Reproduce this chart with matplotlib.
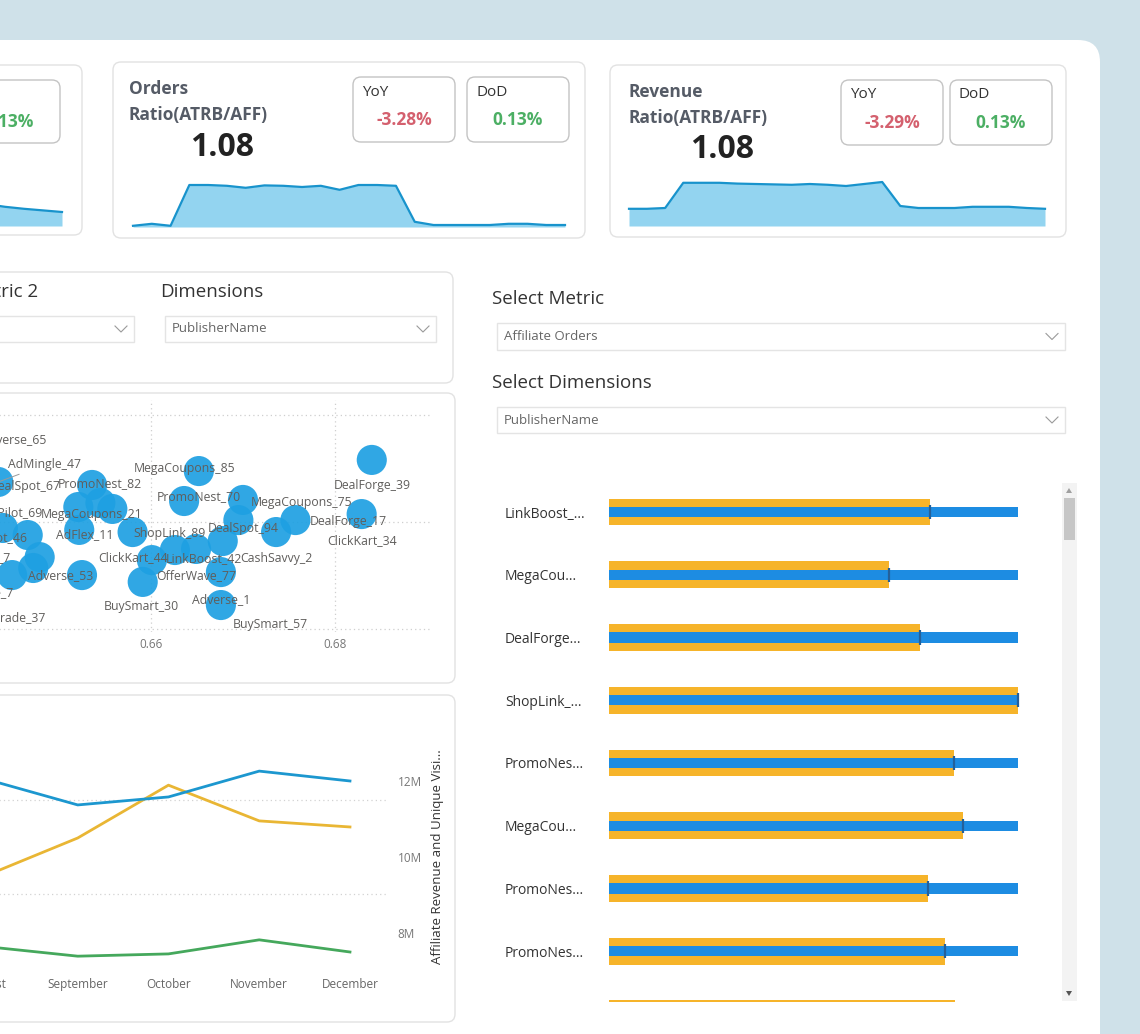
import matplotlib
matplotlib.use('Agg')
import matplotlib.pyplot as plt
from matplotlib.patches import FancyBboxPatch, Rectangle, Polygon

W, H = 1140, 1034
plt.rcParams['font.family'] = ['Open Sans', 'DejaVu Sans']

# ── KPI cards ──
LEFT_SPARK = [1.055, 1.048, 1.043, 1.039, 1.035]
ORDERS_SPARK = [1.003, 1.008, 1.003, 1.105, 1.105, 1.103, 1.098, 1.104, 1.103, 1.100, 1.103, 1.093,
                1.105, 1.105, 1.103, 1.013, 1.005, 1.005, 1.005, 1.005, 1.008, 1.008, 1.005, 1.005]
REVENUE_SPARK = [1.043, 1.043, 1.045, 1.108, 1.108, 1.108, 1.106, 1.105, 1.104, 1.103, 1.105, 1.103,
                 1.100, 1.105, 1.110, 1.050, 1.045, 1.045, 1.045, 1.048, 1.048, 1.048, 1.045, 1.043]
KPI_VALUE = ['1.08', '1.08']
KPI_YOY = ['-3.28%', '-3.29%']
KPI_DOD = ['0.13%', '0.13%']

# ── scatter (publisher bubbles) ──
SC_NAMES = ['DealForge_39', 'ClickKart_34', 'DealForge_17', 'MegaCoupons_75', 'MegaCoupons_85',
            'PromoNest_70', 'DealSpot_94', 'CashSavvy_2', 'ShopLink_12', 'LinkBoost_42', 'OfferWave_77',
            'Adverse_1', 'BuySmart_57', 'ClickKart_44', 'BuySmart_30', 'ShopLink_89', 'PromoNest_82',
            'MegaCoupons_21', 'CashSavvy_58', 'AdFlex_29', 'AdFlex_11', 'Adverse_53', 'AdMingle_47',
            'DealSpot_67', 'AdPilot_69', 'DealSpot_46', 'ShopLink_7', 'OfferWave_15', 'Adverse_7',
            'AdTrade_37', 'Adverse_65']
SC_X = [0.6840, 0.6829, 0.6757, 0.6700, 0.6652, 0.6636, 0.6695, 0.6736, 0.6678, 0.6626, 0.6649,
        0.6676, 0.6676, 0.6601, 0.6591, 0.6580, 0.6536, 0.6545, 0.6521, 0.6558, 0.6522, 0.6525,
        0.6434, 0.6398, 0.6439, 0.6466, 0.6479, 0.6472, 0.6449, 0.6414, 0.6403]
SC_Y = [0.5790, 0.5537, 0.5509, 0.5603, 0.5738, 0.5598, 0.5509, 0.5453, 0.5411, 0.5369, 0.5374,
        0.5266, 0.5112, 0.5322, 0.5220, 0.5453, 0.5673, 0.5589, 0.5570, 0.5561, 0.5463, 0.5252,
        0.5687, 0.5640, 0.5472, 0.5439, 0.5336, 0.5285, 0.5252, 0.5112, 0.5953]

# label offsets in pixels (layout only); missing = label hidden
LABEL_OFF = {
    'DealForge_39': (0, -26), 'ClickKart_34': (0, -26), 'DealForge_17': (53, -1),
    'MegaCoupons_75': (59, -3), 'MegaCoupons_85': (-14, 3), 'PromoNest_70': (15, 4),
    'DealSpot_94': (5, -8), 'CashSavvy_2': (0, -26), 'LinkBoost_42': (29, -9),
    'OfferWave_77': (0, -27), 'Adverse_1': (0, -27), 'BuySmart_57': (49, -19),
    'ClickKart_44': (-19, 3), 'BuySmart_30': (-1, -25), 'ShopLink_89': (37, -1),
    'PromoNest_82': (8, 1), 'MegaCoupons_21': (-9, -12), 'AdFlex_11': (6, -5),
    'Adverse_53': (-21, 0), 'AdMingle_47': (46, 17), 'DealSpot_67': (60, 6),
    'AdPilot_69': (9, 15), 'DealSpot_46': (-35, -3), 'ShopLink_7': (-62, -1),
    'Adverse_7': (-28, -17), 'AdTrade_37': (32, -13), 'Adverse_65': (44, -15),
}

# ── monthly trend ──
MONTHS = ['August', 'September', 'October', 'November', 'December']
REV_BLUE = [12.04, 11.37, 11.58, 12.26, 12.00]      # millions
REV_YELLOW = [9.52, 10.50, 11.89, 10.95, 10.79]
REV_GREEN = [7.64, 7.39, 7.45, 7.82, 7.50]

# ── bullet chart ──
PUB_LABELS = ['LinkBoost_...', 'MegaCou...', 'DealForge...', 'ShopLink_...', 'PromoNes...',
              'MegaCou...', 'PromoNes...', 'PromoNes...', 'PromoNes...']
PUB_ACTUAL = [78.5, 68.5, 76.0, 100.0, 84.4, 86.6, 78.0, 82.2, 84.6]
PUB_TARGET = [100, 100, 100, 100, 100, 100, 100, 100, 100]

TITLE_C = '#555b66'
RED = '#d4606e'
GREEN_T = '#4caf64'
SPARK_FILL = '#93d4f0'
SPARK_LINE = '#1893cc'

fig = plt.figure(figsize=(W / 100, H / 100), dpi=100, facecolor='#cfe1e9')
bg = fig.add_axes([0, 0, 1, 1], zorder=0)
bg.set_xlim(0, W); bg.set_ylim(H, 0); bg.axis('off')


def px_axes(x0, y0, x1, y1, z=2):
    a = fig.add_axes([x0 / W, 1 - y1 / H, (x1 - x0) / W, (y1 - y0) / H], zorder=z)
    a.patch.set_alpha(0)
    return a


def rbox(x0, y0, x1, y1, r=8, ec='#e2e2e2', fc='white', lw=1.0, z=1):
    bg.add_patch(FancyBboxPatch((x0 + r, y0 + r), x1 - x0 - 2 * r, y1 - y0 - 2 * r,
                                boxstyle=f'round,pad={r}', fc=fc, ec=ec, lw=lw, zorder=z))


def chevron(cx, cy):
    bg.plot([cx - 6, cx, cx + 6], [cy - 3, cy + 3, cy - 3], color='#9a9a9a', lw=0.8, zorder=4)


def dropdown(x0, y0, x1, y1, text):
    bg.add_patch(Rectangle((x0, y0), x1 - x0, y1 - y0, fc='white', ec='#e4e4e4', lw=1.0, zorder=3))
    if text:
        bg.text(x0 + 7, (y0 + y1) / 2, text, fontsize=9.5, color='#666', va='center', ha='left', zorder=4)
    chevron(x1 - 13, (y0 + y1) / 2)


def spark(vals, x0, x1, ytop, ybot):
    a = px_axes(x0, ytop, x1, ybot, z=3)
    xs = range(len(vals))
    a.fill_between(xs, 1.0, vals, color=SPARK_FILL, lw=0)
    a.plot(xs, vals, color=SPARK_LINE, lw=1.6, clip_on=False, solid_joinstyle='round')
    a.set_xlim(0, len(vals) - 1)
    a.set_ylim(1.0, 1.0 + (ybot - ytop) / 400)
    a.axis('off')


# main white panel
rbox(-40, 40, 1100, 1100, r=22, ec='none', fc='white', z=0.5)

# ── KPI row ──
rbox(-30, 65, 82, 235)
rbox(-30, 80, 60, 143, ec='#c4c4c4')
bg.text(9, 122, KPI_DOD[0], fontsize=12.5, color=GREEN_T, ha='center', va='center', fontweight='bold')
spark(LEFT_SPARK, -14, 62, 170, 226)

for (cx0, cx1, cy0, cy1, title, val, yoy, dod, spx, sdata) in [
        (113, 585, 62, 238, 'Orders', KPI_VALUE[0], KPI_YOY[0], KPI_DOD[0], (133, 565, 170, 227), ORDERS_SPARK),
        (610, 1066, 65, 237, 'Revenue', KPI_VALUE[1], KPI_YOY[1], KPI_DOD[1], (629, 1045, 169, 226), REVENUE_SPARK)]:
    rbox(cx0, cy0, cx1, cy1)
    tx = cx0 + 16 if title == 'Orders' else cx0 + 19
    ty = cy0 + 27
    bg.text(tx, ty, title, fontsize=12.5, fontweight='bold', color=TITLE_C, va='center')
    bg.text(tx, ty + 26, 'Ratio(ATRB/AFF)', fontsize=12.5, fontweight='bold', color=TITLE_C, va='center')
    bg.text(tx + 93, ty + 58, val, fontsize=23, fontweight='bold', color='#222', va='center', ha='center')
    bx = 353 if title == 'Orders' else 841
    by = cy0 + 15
    for k, (lab, v, col) in enumerate([('YoY', yoy, RED), ('DoD', dod, GREEN_T)]):
        b0 = bx + k * (114 if title == 'Orders' else 109)
        rbox(b0, by, b0 + 102, by + 65, ec='#c4c4c4')
        bg.text(b0 + 9, by + 15, lab, fontsize=11, color='#333', va='center')
        bg.text(b0 + 51, by + 43, v, fontsize=12.5, color=col, va='center', ha='center', fontweight='bold')
    spark(sdata, *spx)

# ── slicer card (left) ──
rbox(-30, 272, 453, 383)
bg.text(38, 292, 'Metric 2', fontsize=13.5, color='#333', ha='right', va='center')
bg.text(160, 292, 'Dimensions', fontsize=13.5, color='#333', ha='left', va='center')
dropdown(-20, 316, 134, 342, '')
dropdown(165, 316, 436, 342, 'PublisherName')

# ── right slicers ──
bg.text(492, 299, 'Select Metric', fontsize=13.5, color='#333', va='center')
dropdown(497, 323, 1065, 350, 'Affiliate Orders')
bg.text(492, 383, 'Select Dimensions', fontsize=13.5, color='#333', va='center')
dropdown(497, 407, 1065, 433, 'PublisherName')

# ── scatter card ──
rbox(-30, 393, 455, 683)
sc = px_axes(-80, 400, 430, 632)
sc.scatter(SC_X, SC_Y, s=470, color='#1ea0e2', alpha=0.92, edgecolors='none', zorder=3)
for name, x, y in zip(SC_NAMES, SC_X, SC_Y):
    off = LABEL_OFF.get(name)
    if off is None:
        continue
    kw = {}
    if name == 'AdMingle_47':
        kw['arrowprops'] = dict(arrowstyle='-', color='#9a9a9a', lw=0.7, shrinkA=30, shrinkB=0)
    sc.annotate(name, (x, y), xytext=off, textcoords='offset pixels', ha='center', va='center',
                fontsize=8.8, color='#605e5c', zorder=4, **kw)
sc.set_xticks([0.64, 0.66, 0.68])
sc.set_xticklabels(['0.64', '0.66', '0.68'])
sc.set_yticks([0.50, 0.55, 0.60])
sc.set_xlim(0.63489, 0.69033)
sc.set_ylim(0.4986, 0.6070)
sc.tick_params(length=0, labelsize=8.5, labelcolor='#777', pad=4)
sc.grid(True, color='#cfcfcf', lw=0.9, ls=(0, (1, 2.5)))
sc.set_axisbelow(True)
for s in sc.spines.values():
    s.set_visible(False)

# ── line card ──
rbox(-30, 695, 455, 1022)
ln = px_axes(-200, 710, 388, 968)
ln.set_yticks([20000, 40000])
ln.set_yticklabels(['20K', '40K'])
ln.set_xticks(range(len(MONTHS)))
ln.set_xticklabels(MONTHS)
ln.set_xlim(-2.06, 4.419)
ln.set_ylim(4260, 59150)
ln.grid(True, axis='y', color='#d2d2d2', lw=0.9, ls=(0, (1, 2.5)))
ln.tick_params(length=0, labelsize=8.5, labelcolor='#666', pad=7)
for s in ln.spines.values():
    s.set_visible(False)
ln2 = ln.twinx()
ln2.patch.set_alpha(0)
xs = range(len(MONTHS))
ln2.plot(xs, REV_YELLOW, color='#e9b634', lw=2.0)
ln2.plot(xs, REV_GREEN, color='#45a85c', lw=2.0)
ln2.plot(xs, REV_BLUE, color='#1c97cf', lw=2.0)
ln2.set_yticks([8, 10, 12])
ln2.set_yticklabels(['8M', '10M', '12M'])
ln2.set_ylim(7.079, 13.868)
ln2.tick_params(length=0, labelsize=8.5, labelcolor='#777', pad=7)
for s in ln2.spines.values():
    s.set_visible(False)
bg.text(437, 857, 'Affiliate Revenue and Unique Visi...', rotation=90, fontsize=9.5,
        color='#333', ha='center', va='center')

# ── bullet chart ──
bu = px_axes(609, 480, 1030, 1002)
rows = list(range(len(PUB_LABELS)))
bu.barh(rows, PUB_ACTUAL, height=0.43, color='#f6b42a', zorder=2)
bu.barh(rows, PUB_TARGET, height=0.16, color='#1d8ce2', zorder=3)
bu.vlines(PUB_ACTUAL, [r - 0.115 for r in rows], [r + 0.115 for r in rows], color='#24609a', lw=1.6, zorder=4)
bu.set_yticks(rows)
bu.set_yticklabels(PUB_LABELS)
for t in bu.get_yticklabels():
    t.set_horizontalalignment('left')
bu.set_xticks([])
bu.set_xlim(0, 102.93)
bu.set_ylim(7.809, -0.51)
bu.tick_params(axis='y', length=0, pad=75, labelsize=10, labelcolor='#333')
for s in bu.spines.values():
    s.set_visible(False)

# scrollbar
bg.add_patch(Rectangle((1062, 483), 15, 518, fc='#f3f3f3', ec='none', zorder=2))
bg.add_patch(Rectangle((1064, 498), 11, 42, fc='#c6c6c6', ec='none', zorder=3))
bg.add_patch(Polygon([[1066, 493], [1072, 493], [1069, 488]], closed=True, fc='#a0a0a0', ec='none', zorder=3))
bg.add_patch(Polygon([[1066, 991], [1072, 991], [1069, 996]], closed=True, fc='#555', ec='none', zorder=3))

fig.savefig('out.png', dpi=100, facecolor=fig.get_facecolor())
